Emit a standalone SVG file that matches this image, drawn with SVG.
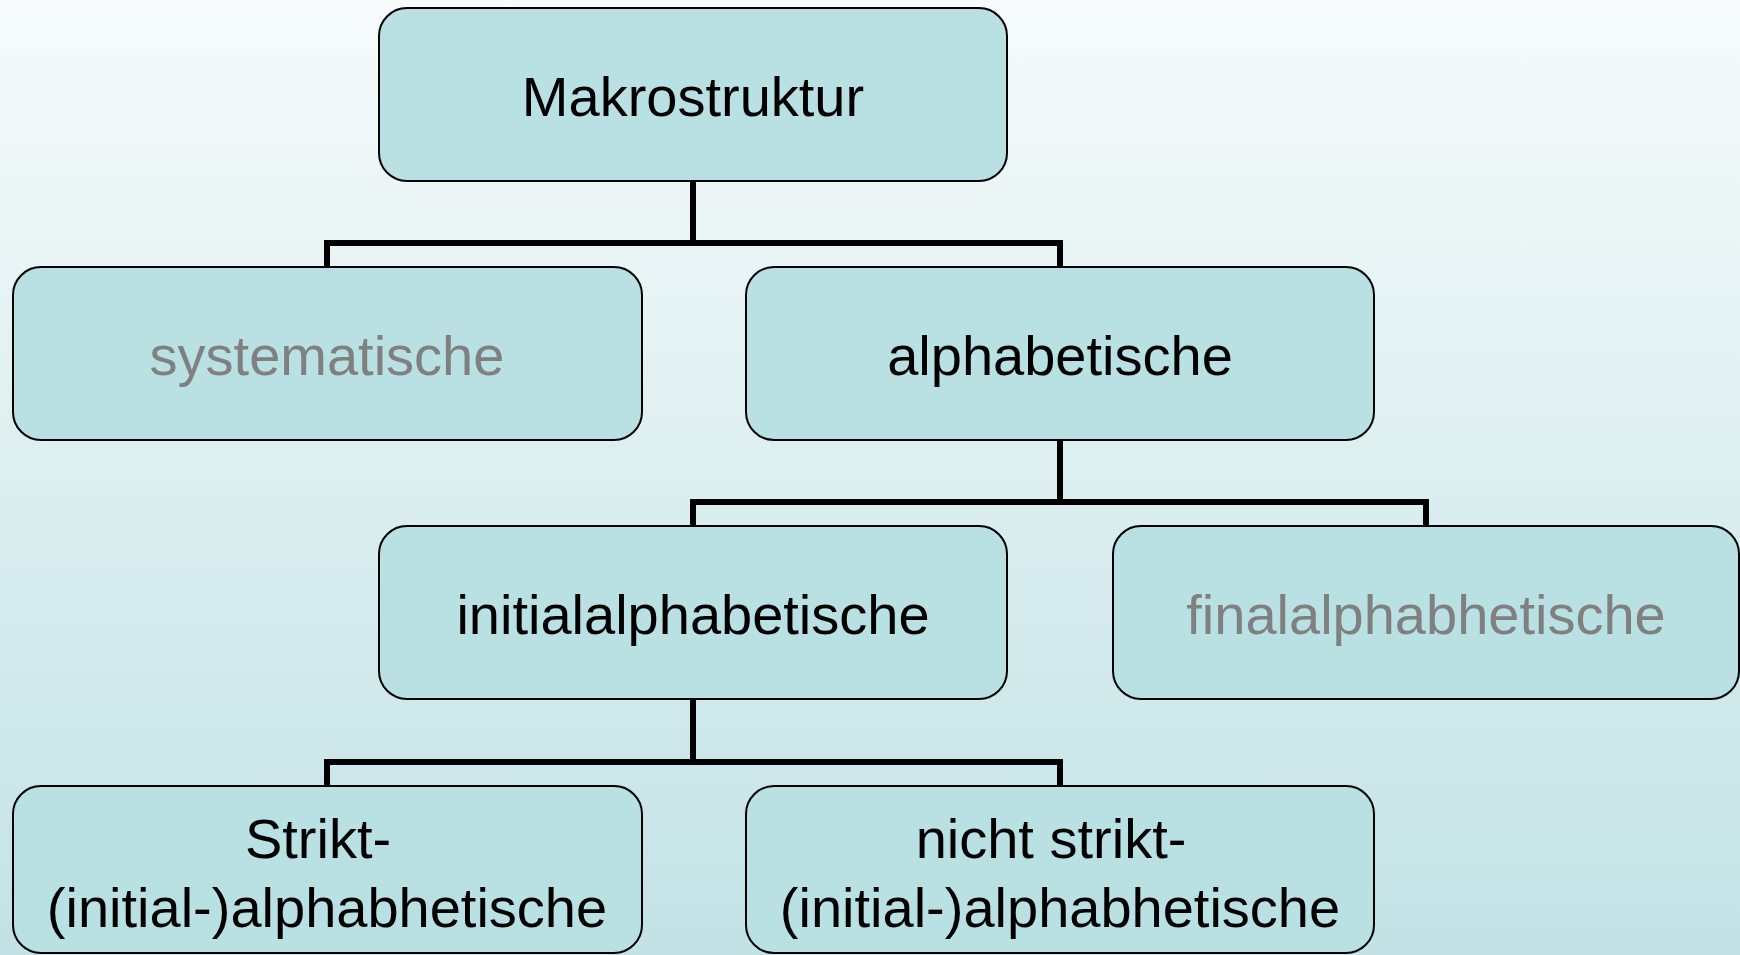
<svg xmlns="http://www.w3.org/2000/svg" width="1740" height="955" viewBox="0 0 1740 955">
<defs>
<linearGradient id="bg" x1="0" y1="0" x2="0" y2="1">
<stop offset="0" stop-color="#f7fbfb"/>
<stop offset="1" stop-color="#c2e2e5"/>
</linearGradient>
<style>
.box{fill:#b9e0e3;stroke:#000;stroke-width:2}
.t{font-family:"Liberation Sans",Arial,sans-serif;font-size:56px;text-anchor:middle;fill:#000}
.g{fill:#808080}
.c{fill:none;stroke:#000;stroke-width:6;stroke-linejoin:miter}
</style>
</defs>
<rect width="1740" height="955" fill="url(#bg)"/>
<g id="connectors">
<path class="c" d="M693,181 V243 M327,267 V243 H1060 V267"/>
<path class="c" d="M1060,440 V502 M693,526 V502 H1426 V526"/>
<path class="c" d="M693,699 V762 M327,786 V762 H1060 V786"/>
</g>
<g id="n-makro">
<rect class="box" x="379" y="8" width="628" height="173" rx="28"/>
<text class="t" x="693" y="116">Makrostruktur</text>
</g>
<g id="n-systematische">
<rect class="box" x="13" y="267" width="629" height="173" rx="28"/>
<text class="t g" x="327" y="375">systematische</text>
</g>
<g id="n-alphabetische">
<rect class="box" x="746" y="267" width="628" height="173" rx="28"/>
<text class="t" x="1060" y="375">alphabetische</text>
</g>
<g id="n-initial">
<rect class="box" x="379" y="526" width="628" height="173" rx="28"/>
<text class="t" x="693" y="634">initialalphabetische</text>
</g>
<g id="n-final">
<rect class="box" x="1113" y="526" width="626" height="173" rx="28"/>
<text class="t g" x="1426" y="634">finalalphabhetische</text>
</g>
<g id="n-strikt">
<rect class="box" x="13" y="786" width="629" height="167" rx="28"/>
<text class="t" x="318" y="858">Strikt-</text>
<text class="t" x="327" y="927">(initial-)alphabhetische</text>
</g>
<g id="n-nichtstrikt">
<rect class="box" x="746" y="786" width="628" height="167" rx="28"/>
<text class="t" x="1051" y="858">nicht strikt-</text>
<text class="t" x="1060" y="927">(initial-)alphabhetische</text>
</g>
</svg>
